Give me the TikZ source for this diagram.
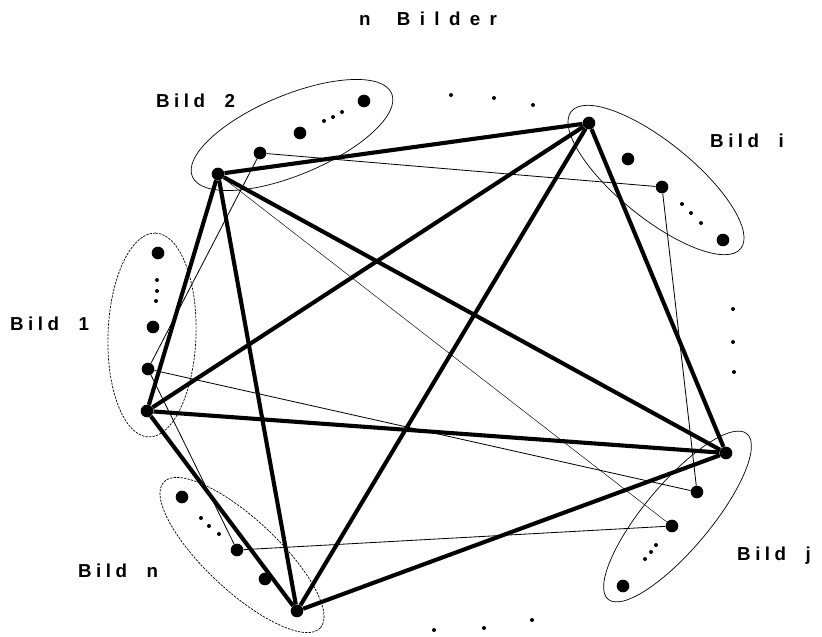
\documentclass[tikz,border=0pt]{standalone}
\usepackage{fontspec}
\newfontfamily\bildschrift[LetterSpace=24]{Liberation Sans}
\newfontfamily\titelschrift[LetterSpace=50]{Liberation Sans}
\tikzset{
    punkt/.style={circle, fill=black, inner sep=0pt, minimum size=3.8mm},
    kleinpunkt/.style={circle, fill=black, inner sep=0pt, minimum size=1.2mm},
    kante/.style={line width=3.5pt},
    duenn/.style={line width=0.7pt},
    haar/.style={line width=0.4pt},
    rand/.style={line width=0.6pt},
    randpunktiert/.style={line width=0.6pt, dash pattern=on 2pt off 1pt},
    bildtext/.style={anchor=base west, inner sep=0pt, font=\bildschrift\bfseries\fontsize{16}{19}\selectfont},
    titeltext/.style={anchor=base west, inner sep=0pt, font=\titelschrift\bfseries\fontsize{16}{19}\selectfont},
}

\begin{document}
\begin{tikzpicture}[x=0.3mm, y=-0.3mm]
\useasboundingbox (0,0) rectangle (822,636);
\draw[rand, rotate around={22.6:(292,135)}] (292,135) ellipse [x radius=108, y radius=40];
\draw[rand, rotate around={-39:(656,180)}] (656,180) ellipse [x radius=109, y radius=38];
\draw[randpunktiert, rotate around={88:(152,335)}] (152,335) ellipse [x radius=102, y radius=44];
\draw[rand, rotate around={50:(677.5,516.5)}] (677.5,516.5) ellipse [x radius=108, y radius=33];
\draw[randpunktiert, rotate around={-43:(242,555)}] (242,555) ellipse [x radius=107, y radius=36];

\node[punkt] (k2) at (218,174) {};
\node[punkt] (ki) at (589,123) {};
\node[punkt] (k1) at (147,411) {};
\node[punkt] (kj) at (726,453) {};
\node[punkt] (kn) at (297,611) {};

\node[punkt] (v2) at (260,153) {};
\node[punkt] (vi) at (662,187) {};
\node[punkt] (v1) at (148,369) {};
\node[punkt] (vj) at (697,492) {};
\node[punkt] (wj) at (672,526) {};
\node[punkt] (vn) at (237,550) {};

\node[punkt] (p2a) at (300,133) {};
\node[punkt] (p2b) at (364,101) {};
\node[punkt] (pia) at (628,159) {};
\node[punkt] (pib) at (723,240) {};
\node[punkt] (p1a) at (158,253) {};
\node[punkt] (p1b) at (153,327) {};
\node[punkt] (pja) at (623,586) {};
\node[punkt] (pna) at (182,497) {};
\node[punkt] (pnb) at (265,579) {};

\foreach \x/\y [count=\n] in {324/121, 333/117, 342/112, 682/204, 691/213, 701/223,
    157/280, 157/291, 156/301, 656/545, 651/552, 645/559, 201/518, 209/526, 219/534,
    451/95, 494/98, 533/105, 733/309, 733/342, 734/372, 434/630, 484/628, 532/620} {
    \node[kleinpunkt] (s\n) at (\x,\y) {};
}

\draw[duenn] (v2) -- (vi);
\draw[duenn] (v2) -- (v1);
\draw[duenn] (vi) -- (vj);
\draw[haar] (k2) -- (wj);
\draw[duenn] (v1) -- (vj);
\draw[duenn] (vn) -- (wj);
\draw[duenn] (v1) -- (vn);

\foreach \a/\b in {k1/k2, k1/ki, k1/kj, k1/kn, k2/ki, k2/kj, k2/kn, ki/kj, ki/kn, kj/kn} {
    \draw[kante] (\a) -- (\b);
}

\node[titeltext] (titel) at (359,25) {n~\hskip 10pt Bilder};
\node[bildtext] (t2) at (156,107) {Bild~~2};
\node[bildtext] (ti) at (710,147) {Bild~~i};
\node[bildtext] (t1) at (10,330) {Bild~~1};
\node[bildtext] (tn) at (78,577) {Bild~~n};
\node[bildtext] (tj) at (737,560) {Bild~~j};
\end{tikzpicture}
\end{document}
